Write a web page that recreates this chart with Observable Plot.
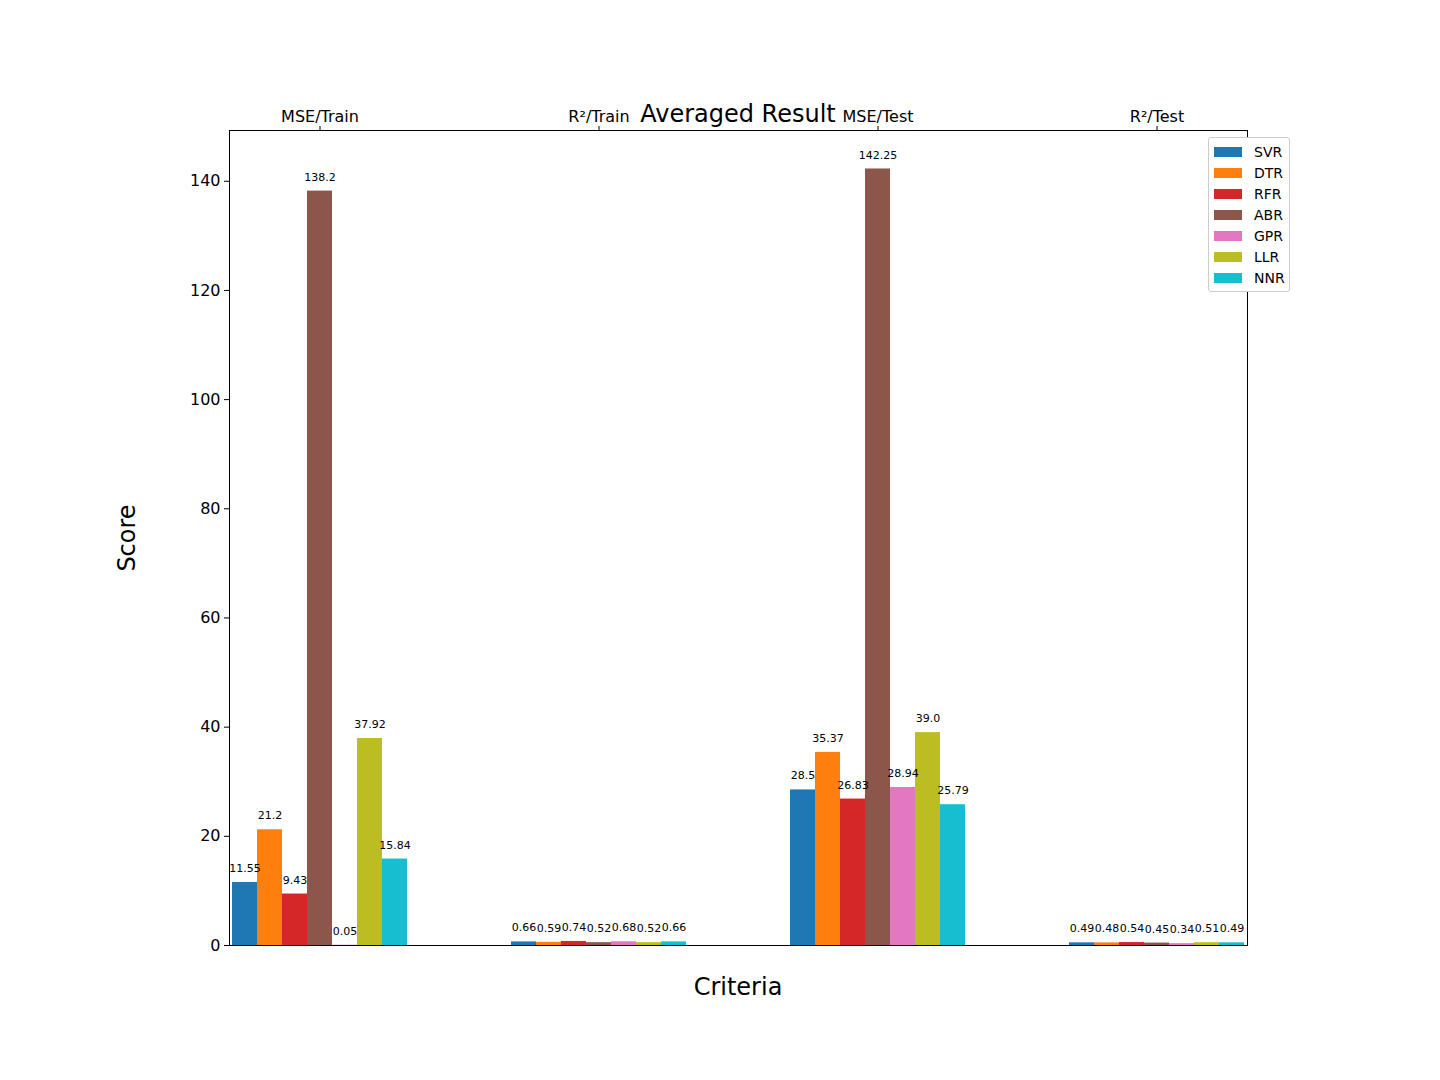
<!DOCTYPE html>
<html><head><meta charset="utf-8">
<script src="https://cdn.jsdelivr.net/npm/d3@7"></script>
<script src="https://cdn.jsdelivr.net/npm/@observablehq/plot@0.6"></script>
<style>
body{margin:0;background:#fff;font-family:"DejaVu Sans",sans-serif}
#wrap{position:relative;width:1440px;height:1080px}
#title{position:absolute;left:180px;width:1116px;top:100px;text-align:center;font-size:24px}
#legend{position:absolute;left:1208px;top:137px;width:80px;border:1px solid #ccc;border-radius:3px;background:#fff;padding:3px 0;font-size:14px}
#legend div{display:flex;align-items:center;height:21px;padding-left:5px}
#legend span{display:inline-block;width:28px;height:10px;margin-right:12px}
</style></head>
<body><div id="wrap"><div id="chart"></div><div id="title">Averaged Result</div><div id="legend"></div></div>
<script>
const criteria = ["MSE/Train", "R2/Train", "MSE/Test", "R2/Test"];
const tickLabels = {"MSE/Train": "MSE/Train", "R2/Train": "R²/Train", "MSE/Test": "MSE/Test", "R2/Test": "R²/Test"};
const models = ["SVR", "DTR", "RFR", "ABR", "GPR", "LLR", "NNR"];
const colors = ["#1f77b4", "#ff7f0e", "#d62728", "#8c564b", "#e377c2", "#bcbd22", "#17becf"];
const mseTrain = [11.55, 21.2, 9.43, 138.2, 0.05, 37.92, 15.84];
const r2Train = [0.66, 0.59, 0.74, 0.52, 0.68, 0.52, 0.66];
const mseTest = [28.5, 35.37, 26.83, 142.25, 28.94, 39.0, 25.79];
const r2Test = [0.49, 0.48, 0.54, 0.45, 0.34, 0.51, 0.49];
const series = [mseTrain, r2Train, mseTest, r2Test];

const data = [];
criteria.forEach((c, i) => models.forEach((m, j) => data.push({criteria: c, model: m, value: series[i][j], label: String(series[i][j] === 39 ? "39.0" : series[i][j])})));

const chart = Plot.plot({
  width: 1440, height: 1080,
  marginLeft: 180, marginRight: 144, marginTop: 130, marginBottom: 135,
  style: {fontFamily: "DejaVu Sans, sans-serif", fontSize: "16px", color: "#000"},
  fx: {domain: criteria, paddingInner: 0.35, paddingOuter: 0.175, tickFormat: d => tickLabels[d], label: null, tickSize: 5, tickPadding: 4},
  x: {domain: models, padding: 0, axis: null},
  y: {domain: [0, 149.3], ticks: d3.range(0, 141, 20), label: null, tickSize: 5},
  color: {domain: models, range: colors},
  marks: [
    Plot.barY(data, {fx: "criteria", x: "model", y: "value", fill: "model", inset: 0}),
    Plot.text(data, {fx: "criteria", x: "model", y: "value", text: "label", dy: -14, fontSize: 11}),
    Plot.axisY({ticks: d3.range(0, 141, 20), tickSize: 5, fontSize: 16, label: null}),
    Plot.axisFx({tickFormat: d => tickLabels[d], fontSize: 16, label: null, tickSize: 5}),
    Plot.frame({facet: "super", stroke: "#000"})
  ]
});
const svg = d3.select(chart);
svg.append("text").attr("x", 738).attr("y", 995).attr("text-anchor", "middle").style("font-size", "24px").text("Criteria");
svg.append("text").attr("transform", "translate(135,538) rotate(-90)").attr("text-anchor", "middle").style("font-size", "24px").text("Score");
d3.select("#chart").append(() => chart);

const leg = d3.select("#legend");
models.forEach((m, i) => {
  const row = leg.append("div");
  row.append("span").style("background", colors[i]);
  row.append("text").text(m);
});
</script></body></html>
